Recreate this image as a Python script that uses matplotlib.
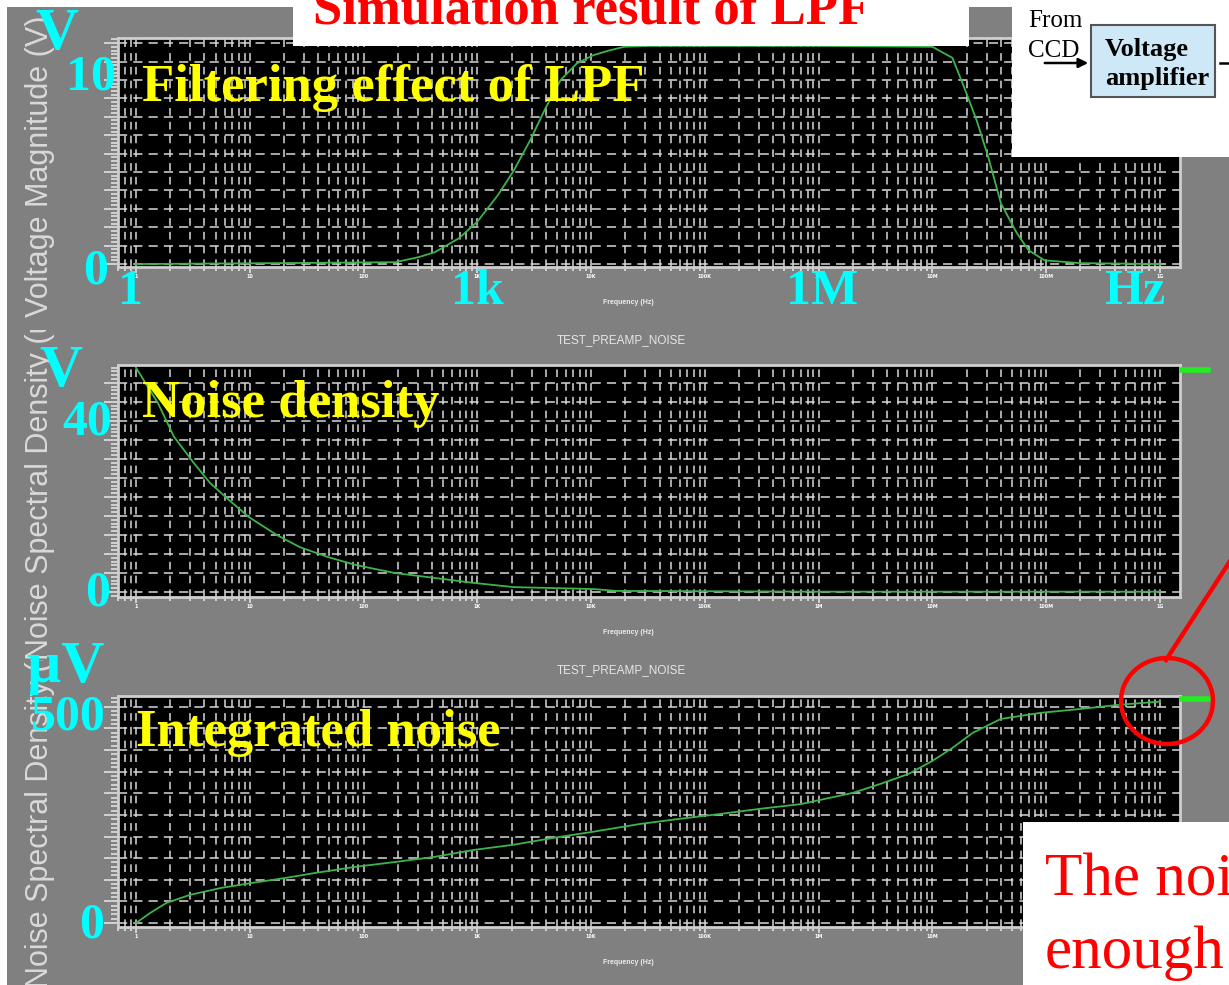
import numpy as np
import matplotlib
matplotlib.use("Agg")
import matplotlib.pyplot as plt
from matplotlib.patches import Rectangle, Ellipse, FancyArrowPatch
from matplotlib.lines import Line2D
from matplotlib.ticker import LogLocator, MultipleLocator, AutoMinorLocator, NullFormatter
from matplotlib.transforms import Bbox, TransformedBbox

W, H = 1229, 985

# --- data ---
# top plot: LPF voltage magnitude (V)
lpf_freq = [1, 17, 190, 307, 425, 690, 1000, 1520, 2100, 2900, 4000, 5400, 7500,
            10500, 14400, 19400, 31600, 1e5, 1e6, 1e7, 1.5e7, 1.9e7, 2.45e7,
            3.1e7, 4.0e7, 5.5e7, 7.0e7, 9.7e7, 2e8, 1e9]
lpf_mag = [0.0, 0.05, 0.1, 0.38, 0.65, 1.4, 2.3, 3.75, 5.1, 6.7, 8.5, 10.0, 10.9,
           11.35, 11.6, 11.8, 11.85, 11.85, 11.85, 11.8, 11.2, 9.6, 7.8,
           5.8, 3.3, 1.7, 0.75, 0.2, 0.05, 0.0]

# middle plot: noise spectral density
nsd_freq = [1, 1.56, 2.16, 3.23, 4.47, 6.57, 9.84, 17.3, 27.6, 48.7, 85.7, 189,
            424, 933, 2090, 10400, 16500, 1e6, 1e9]
nsd_val = [59.0, 49.7, 40.8, 33.9, 28.7, 24.2, 19.7, 15.0, 11.8, 9.2, 7.1, 5.0,
           3.7, 2.4, 1.3, 0.8, 0.3, 0.1, 0.1]

# bottom plot: integrated noise (uV)
int_freq = [1, 1.33, 1.84, 2.98, 5.58, 10.7, 20.4, 38.2, 85.7, 189, 424, 933,
            2090, 4710, 10400, 26900, 60300, 1.35e5, 3.04e5, 6.98e5, 1.23e6,
            2.0e6, 3.52e6, 6.2e6, 1.0e7, 1.5e7, 2.27e7, 4.0e7, 8.9e7, 2.0e8,
            4.5e8, 1e9]
int_val = [0, 23, 46, 65, 81, 93, 104, 116, 130, 141, 153, 169, 181, 197, 211,
           229, 241, 252, 264, 275, 289, 301, 322, 345, 375, 405, 440, 472, 486,
           495, 505, 512]

decade_labels = ['1', '10', '100', '1K', '10K', '100K', '1M', '10M', '100M', '1G']


def fx(x):
    return x / W


def fy(y):
    return 1 - y / H


serif = 'Liberation Serif'
sans = 'Liberation Sans'

fig = plt.figure(figsize=(W / 100, H / 100), dpi=100, facecolor='white')

# gray slide panel
fig.add_artist(Rectangle((fx(7), 0), 1 - fx(7), fy(7), transform=fig.transFigure,
                         facecolor='#808080', edgecolor='none', zorder=-10))


def make_ax(top, bottom, ylim, ystep, freq, vals):
    ax = fig.add_axes([fx(118), fy(bottom), fx(1180) - fx(118), fy(top) - fy(bottom)])
    ax.set_facecolor('black')
    ax.set_xscale('log')
    ax.set_xlim(0.695, 1.5e9)
    ax.set_ylim(*ylim)
    ax.yaxis.set_major_locator(MultipleLocator(ystep))
    ax.yaxis.set_minor_locator(AutoMinorLocator(5))
    ax.set_xticks(10.0 ** np.arange(10), decade_labels)
    ax.xaxis.set_minor_locator(LogLocator(base=10, subs=np.arange(2, 10), numticks=30))
    ax.xaxis.set_minor_formatter(NullFormatter())
    ax.set_axisbelow(True)
    ax.grid(which='both', axis='x', color='#d8d8d8', ls=(0, (5, 4)), lw=1.1)
    ax.grid(which='major', axis='y', color='#d8d8d8', ls=(0, (6, 4)), lw=1.1)
    ax.tick_params(which='both', colors='#e0e0e0', direction='out', width=1.2)
    ax.tick_params(axis='y', which='major', length=10, labelleft=False)
    ax.tick_params(axis='y', which='minor', length=5)
    ax.tick_params(axis='x', which='major', length=4, labelsize=3.5, pad=1)
    ax.tick_params(axis='x', which='minor', length=3)
    for lab in ax.get_xticklabels():
        lab.set_color('white')
        lab.set_fontweight('bold')
    for s in ax.spines.values():
        s.set_color('#cfcfcf')
        s.set_linewidth(2)
    ax.plot(freq, vals, color='#3cb44b', lw=1.3)
    return ax


ax1 = make_ax(38, 267, (-0.16, 12.28), 1, lpf_freq, lpf_mag)
ax2 = make_ax(365, 597, (-1.3, 59.7), 5, nsd_freq, nsd_val)
ax3 = make_ax(696, 927, (-9.3, 525), 50, int_freq, int_val)

# small simulator labels
for yy in (303, 633, 963):
    fig.text(fx(628), fy(yy), 'Frequency (Hz)', fontsize=5, color='#ececec',
             fontweight='bold', family=sans, ha='center', va='center')
for yy in (340, 670):
    fig.text(fx(621), fy(yy), 'TEST_PREAMP_NOISE', fontsize=8.5, color='#e6e6e6',
             family=sans, ha='center', va='center')

# legend dashes
for yy in (370, 699):
    fig.add_artist(Line2D([fx(1182), fx(1208)], [fy(yy), fy(yy)], color='#22ee22',
                          lw=4, transform=fig.transFigure))


# rotated y labels, each clipped to its own screenshot strip
def ylabel(text, start, clip_top, clip_bottom):
    t = fig.text(fx(40), fy(start), text, rotation=90, fontsize=22, color='#d9d9d9',
                 family=sans, ha='center', va='bottom', zorder=2)
    box = TransformedBbox(Bbox.from_extents(0, fy(clip_bottom), 1, fy(clip_top)),
                          fig.transFigure)
    t.set_clip_box(box)
    t.set_clip_on(True)


ylabel('Voltage Magnitude (V)', 317, 7, 330)
ylabel('Noise Spectral Density (uV/sqrt(Hz))', 660, 330, 660)
ylabel('Noise Spectral Density (uV/sqrt(Hz))', 988, 660, 985)

# cyan axis annotations
cyan = '#00ffff'
cyan_labels = [('V', 57, 35, 43), ('10', 91, 78, 36), ('0', 96, 271, 36),
               ('1', 131, 292, 36), ('1k', 477, 292, 36), ('1M', 822, 292, 36),
               ('Hz', 1135, 292, 36), ('V', 61, 372, 43), ('40', 87, 423, 36),
               ('0', 98, 593, 36), ('µV', 66, 668, 43), ('500', 68, 718, 36),
               ('0', 92, 926, 36)]
for txt, x, y, size in cyan_labels:
    fig.text(fx(x), fy(y), txt, fontsize=size, color=cyan, family=serif,
             fontweight='bold', ha='center', va='center', zorder=4)

# yellow panel titles
for txt, x, y in [('Filtering effect of LPF', 142, 88), ('Noise density', 142, 404),
                  ('Integrated noise', 136, 733)]:
    fig.text(fx(x), fy(y), txt, fontsize=38, color='#ffff00', family=serif,
             fontweight='bold', ha='left', va='center', zorder=4)

# title box
fig.add_artist(Rectangle((fx(293), fy(46)), fx(969) - fx(293), fy(0) - fy(46),
                         transform=fig.transFigure, facecolor='white',
                         edgecolor='none', zorder=5))
fig.text(fx(313), fy(23), 'Simulation result of LPF', fontsize=38, color='#ff0000',
         family=serif, fontweight='bold', ha='left', va='baseline', zorder=6)

# block diagram box (top right)
fig.add_artist(Rectangle((fx(1012), fy(157)), 1 - fx(1012), fy(0) - fy(157),
                         transform=fig.transFigure, facecolor='white',
                         edgecolor='none', zorder=5))
fig.text(fx(1028), fy(27), 'From', fontsize=18, family=serif, color='black',
         va='baseline', zorder=6)
fig.text(fx(1028), fy(57), 'CCD', fontsize=18, family=serif, color='black',
         va='baseline', zorder=6)
fig.add_artist(FancyArrowPatch((fx(1042), fy(63)), (fx(1091), fy(63)),
                               transform=fig.transFigure, arrowstyle='-|>',
                               mutation_scale=14, color='black', lw=1.8, zorder=6))
fig.add_artist(Rectangle((fx(1091), fy(97)), fx(1215) - fx(1091), fy(25) - fy(97),
                         transform=fig.transFigure, facecolor='#cfe8f8',
                         edgecolor='#555555', lw=1.5, zorder=6))
fig.text(fx(1105), fy(56), 'Voltage', fontsize=19, family=serif, fontweight='bold',
         color='black', va='baseline', zorder=7)
fig.text(fx(1105), fy(85), 'amplifier', fontsize=19, family=serif, fontweight='bold',
         color='black', va='baseline', zorder=7)
fig.add_artist(Line2D([fx(1220), 1.0], [fy(63), fy(63)], color='black', lw=1.8,
                      transform=fig.transFigure, zorder=6))

# comment box (bottom right)
fig.add_artist(Rectangle((fx(1023), 0), 1 - fx(1023), fy(822),
                         transform=fig.transFigure, facecolor='white',
                         edgecolor='none', zorder=5))
fig.text(fx(1045), fy(895), 'The noise', fontsize=44, family=serif, color='#ff0000',
         va='baseline', zorder=6)
fig.text(fx(1045), fy(968), 'enough', fontsize=44, family=serif, color='#ff0000',
         va='baseline', zorder=6)

# red circle and pointer
fig.add_artist(Ellipse((fx(1167), fy(701)), 2 * 46 / W, 2 * 43 / H,
                       transform=fig.transFigure, facecolor='none',
                       edgecolor='#ff0000', lw=3.2, zorder=6))
fig.add_artist(Line2D([fx(1166), fx(1245)], [fy(660), fy(538)], color='#ff0000',
                      lw=3.2, transform=fig.transFigure, zorder=6))

fig.savefig('out.png', dpi=100, facecolor='white')
